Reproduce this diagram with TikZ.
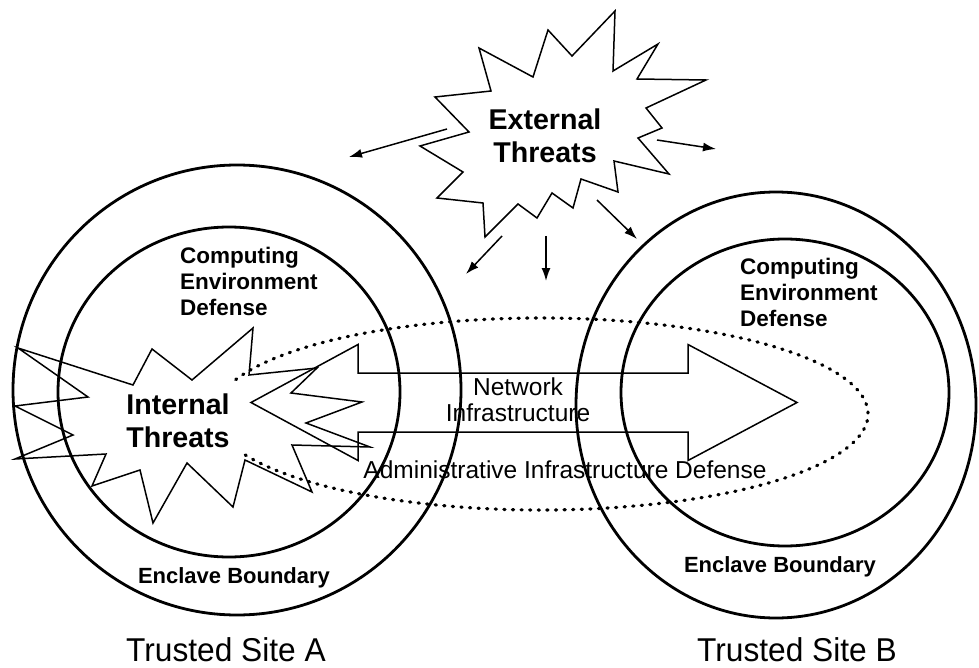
\documentclass[tikz,border=0pt]{standalone}
\usepackage{fontspec}
\setmainfont{Liberation Sans}
\newfontfamily\sitefont[FakeStretch=0.96]{Liberation Sans}
\usetikzlibrary{arrows.meta}
\tikzset{
  ring/.style={line width=2.8pt},
  burst/.style={line width=1.5pt, line join=miter},
  blockarrow/.style={line width=1.5pt},
  dotline/.style={line width=3.2pt, dash pattern=on 1.2pt off 7.4pt, line cap=round},
  threatarrow/.style={line width=1.5pt, -{Latex[length=13pt,width=9pt]}},
  bigbold/.style={font=\fontsize{28.6}{33}\selectfont\bfseries, align=center, inner sep=0pt},
  defbold/.style={font=\fontsize{22.5}{26}\selectfont\bfseries, align=left, inner sep=0pt},
  enclave/.style={font=\fontsize{22}{26}\selectfont\bfseries, inner sep=0pt, anchor=base},
  netlabel/.style={font=\fontsize{24.5}{26}\selectfont, align=center, inner sep=0pt},
  sitelabel/.style={font=\sitefont\fontsize{33}{38}\selectfont, inner sep=0pt, anchor=base},
}
\begin{document}
\begin{tikzpicture}[x=1pt,y=-1pt]
\useasboundingbox[fill=white] (0,0) rectangle (979,668);

% circles
\draw[ring] (237,390) ellipse [x radius=224, y radius=225];
\draw[ring] (229,392) ellipse [x radius=171, y radius=165];
\draw[ring] (776,405) ellipse [x radius=200, y radius=213];
\draw[ring] (785,392.5) ellipse [x radius=164, y radius=153.5];

% dotted ellipse (administrative infrastructure)
\coordinate (ec) at (541,414);
\draw[dotline] ([shift={(-159:327 and 96)}]ec) arc [start angle=-159, end angle=156, x radius=327, y radius=96];

% network block arrow
\draw[blockarrow] (251,402.5) -- (358,344.5) -- (358,373) -- (688,373) -- (688,344.5)
  -- (797,402.5) -- (688,460.5) -- (688,432) -- (358,432) -- (358,460.5) -- cycle;

% internal threats burst
\draw[burst] (18,348) -- (133,385) -- (152,349) -- (192,380) -- (253,328) -- (249,375)
  -- (317,368) -- (291,393) -- (362,402) -- (306,423) -- (370,447) -- (292,445)
  -- (312,492) -- (245,460) -- (233,507) -- (187,463) -- (153,523) -- (140,470)
  -- (92,486) -- (106,454) -- (15,459) -- (73,435) -- (15,406) -- (88,397) -- cycle;

% external threats burst
\draw[burst] (615,11) -- (613,71) -- (658,44) -- (637,79) -- (706,80) -- (646,108)
  -- (662,128) -- (638,138) -- (669,174) -- (614,161) -- (618,192) -- (581,179)
  -- (573,208) -- (552,193) -- (537,218) -- (518,204) -- (485,237) -- (483,203)
  -- (437,198) -- (463,172) -- (420,146) -- (469,132) -- (435,97) -- (491,91)
  -- (479,48) -- (533,77) -- (548,30) -- (572,56) -- cycle;

% threat arrows
\coordinate (a1s) at (447,129); \coordinate (a1e) at (349,157);
\coordinate (a2s) at (657,140); \coordinate (a2e) at (716,149);
\coordinate (a3s) at (502,236); \coordinate (a3e) at (466,274);
\coordinate (a4s) at (546,236); \coordinate (a4e) at (546,281);
\coordinate (a5s) at (597,200); \coordinate (a5e) at (637,239);
\draw[threatarrow] (a1s) -- (a1e);
\draw[threatarrow] (a2s) -- (a2e);
\draw[threatarrow] (a3s) -- (a3e);
\draw[threatarrow] (a4s) -- (a4e);
\draw[threatarrow] (a5s) -- (a5e);

% labels
\node[bigbold] (ext) at (545,136) {External\\Threats};
\node[bigbold] (int) at (178,421) {Internal\\Threats};
\node[defbold, anchor=north west] (cedA) at (180,247) {Computing\\Environment\\Defense};
\node[defbold, anchor=north west] (cedB) at (740,258) {Computing\\Environment\\Defense};
\node[enclave] (ebA) at (234,583) {Enclave Boundary};
\node[enclave] (ebB) at (780,572) {Enclave Boundary};
\node[netlabel] (net) at (518,400) {Network\\Infrastructure};
\node[netlabel, anchor=base] (aid) at (565,478) {Administrative Infrastructure Defense};
\node[sitelabel] (siteA) at (226,661) {Trusted Site A};
\node[sitelabel] (siteB) at (797,661) {Trusted Site B};
\end{tikzpicture}
\end{document}
